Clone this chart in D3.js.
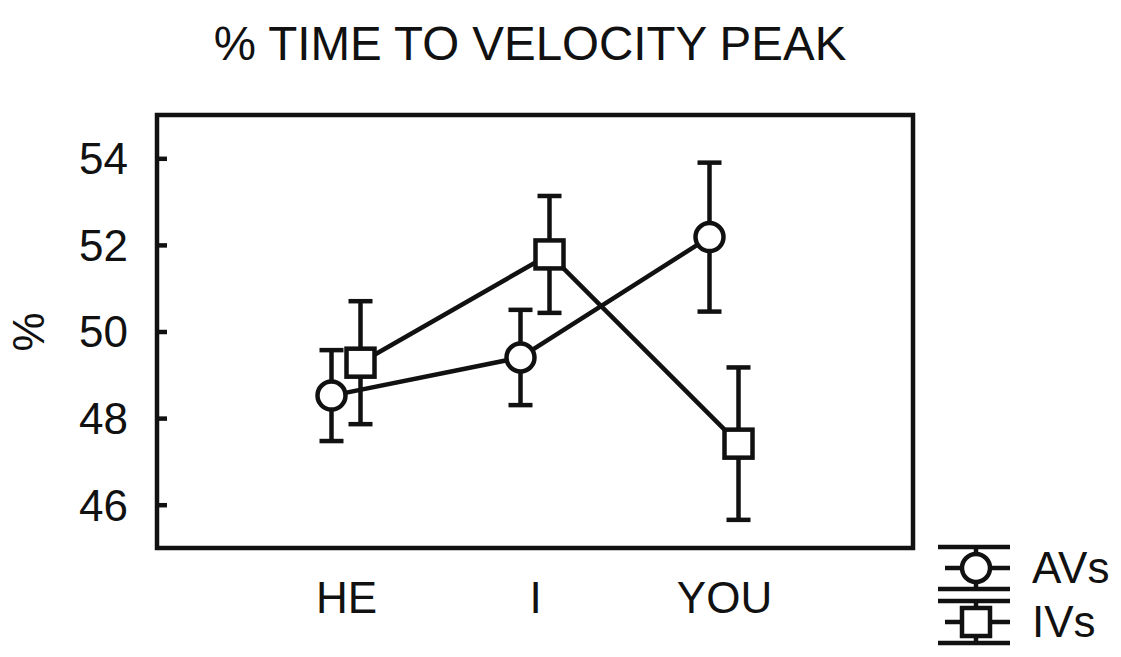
<!DOCTYPE html>
<html>
<head>
<meta charset="utf-8">
<script src="https://cdn.jsdelivr.net/npm/d3@7"></script>
<style>
  body { margin: 0; background: #fff; }
  text { font-family: "Liberation Sans", Arial, sans-serif; fill: #111; }
</style>
</head>
<body>
<script>
// data
var categories = ["HE", "I", "YOU"];
var seriesNames = ["AVs", "IVs"];
var avMeans = [48.52, 49.40, 52.18];
var avErrors = [1.05, 1.10, 1.72];
var ivMeans = [49.28, 51.78, 47.41];
var ivErrors = [1.42, 1.35, 1.76];
var yTicks = [46, 48, 50, 52, 54];

// set the dimensions and margins of the graph
var margin = {top: 115, right: 208, bottom: 109, left: 157},
    width = 1121 - margin.left - margin.right,
    height = 657 - margin.top - margin.bottom;

var sw = 4.5;

var svg = d3.select("body").append("svg")
    .attr("width", 1121)
    .attr("height", 657);

var g = svg.append("g")
    .attr("transform", "translate(" + margin.left + "," + margin.top + ")");

// scales
var x = d3.scalePoint()
    .domain(categories)
    .range([0, width])
    .padding(1);

var y = d3.scaleLinear()
    .domain([45, 55])
    .range([height, 0]);

var offset = 14.5;
var series = [
  {name: seriesNames[0], means: avMeans, errors: avErrors, dx: -offset, shape: "circle"},
  {name: seriesNames[1], means: ivMeans, errors: ivErrors, dx: offset, shape: "square"}
];

// title
svg.append("text")
    .attr("x", 530)
    .attr("y", 60)
    .attr("text-anchor", "middle")
    .style("font-size", "47.5px")
    .text("% TIME TO VELOCITY PEAK");

// y label
svg.append("text")
    .attr("transform", "translate(44,332) rotate(-90)")
    .attr("text-anchor", "middle")
    .style("font-size", "44px")
    .text("%");

// y axis, ticks pointing inward
var yAxis = g.append("g")
    .call(d3.axisRight(y).tickValues(yTicks).tickSize(10).tickFormat(d3.format("d")));
yAxis.select(".domain").remove();
yAxis.selectAll(".tick line").attr("stroke", "#111").attr("stroke-width", sw);
yAxis.selectAll(".tick text")
    .attr("x", -29)
    .attr("text-anchor", "end")
    .style("font-size", "44px")
    .attr("dy", "0.35em");

// x axis labels only
var xAxis = g.append("g")
    .attr("transform", "translate(0," + height + ")")
    .call(d3.axisBottom(x).tickSize(0));
xAxis.select(".domain").remove();
xAxis.selectAll(".tick text")
    .attr("y", 65)
    .attr("dy", 0)
    .style("font-size", "44px");

// frame
g.append("rect")
    .attr("width", width)
    .attr("height", height)
    .attr("fill", "none")
    .attr("stroke", "#111")
    .attr("stroke-width", sw);

var line = d3.line()
    .x(function(d, i) { return x(categories[i]); })
    .y(function(d) { return y(d); });

var capHalf = 12, r = 14, sq = 28;

series.forEach(function(s) {
  var sg = g.append("g").attr("transform", "translate(" + s.dx + ",0)");

  sg.append("path")
      .datum(s.means)
      .attr("d", line)
      .attr("fill", "none")
      .attr("stroke", "#111")
      .attr("stroke-width", sw);

  var pts = sg.selectAll(".pt")
      .data(s.means.map(function(m, i) { return {cat: categories[i], mean: m, err: s.errors[i]}; }))
      .enter().append("g")
      .attr("transform", function(d) { return "translate(" + x(d.cat) + ",0)"; });

  pts.append("line")
      .attr("y1", function(d) { return y(d.mean + d.err); })
      .attr("y2", function(d) { return y(d.mean - d.err); })
      .attr("stroke", "#111").attr("stroke-width", sw);
  pts.append("line")
      .attr("x1", -capHalf).attr("x2", capHalf)
      .attr("y1", function(d) { return y(d.mean + d.err); })
      .attr("y2", function(d) { return y(d.mean + d.err); })
      .attr("stroke", "#111").attr("stroke-width", sw);
  pts.append("line")
      .attr("x1", -capHalf).attr("x2", capHalf)
      .attr("y1", function(d) { return y(d.mean - d.err); })
      .attr("y2", function(d) { return y(d.mean - d.err); })
      .attr("stroke", "#111").attr("stroke-width", sw);

  if (s.shape == "circle") {
    pts.append("circle")
        .attr("cy", function(d) { return y(d.mean); })
        .attr("r", r)
        .attr("fill", "#fff").attr("stroke", "#111").attr("stroke-width", sw);
  } else {
    pts.append("rect")
        .attr("x", -sq / 2)
        .attr("y", function(d) { return y(d.mean) - sq / 2; })
        .attr("width", sq).attr("height", sq)
        .attr("fill", "#fff").attr("stroke", "#111").attr("stroke-width", sw);
  }
});

// legend
var legend = svg.append("g").attr("transform", "translate(976,568)");
series.forEach(function(s, i) {
  var lg = legend.append("g").attr("transform", "translate(0," + (i * 54) + ")");
  [-21, 0, 21].forEach(function(dy, j) {
    lg.append("line")
        .attr("x1", j == 1 ? -31 : -38).attr("x2", 34)
        .attr("y1", dy).attr("y2", dy)
        .attr("stroke", "#111").attr("stroke-width", sw);
  });
  lg.append("line")
      .attr("y1", -21).attr("y2", 21)
      .attr("stroke", "#111").attr("stroke-width", sw);
  if (s.shape == "circle") {
    lg.append("circle").attr("r", r)
        .attr("fill", "#fff").attr("stroke", "#111").attr("stroke-width", sw);
  } else {
    lg.append("rect").attr("x", -sq / 2).attr("y", -sq / 2)
        .attr("width", sq).attr("height", sq)
        .attr("fill", "#fff").attr("stroke", "#111").attr("stroke-width", sw);
  }
  lg.append("text")
      .attr("x", 56)
      .attr("y", 15)
      .style("font-size", "44px")
      .text(s.name);
});
</script>
</body>
</html>
